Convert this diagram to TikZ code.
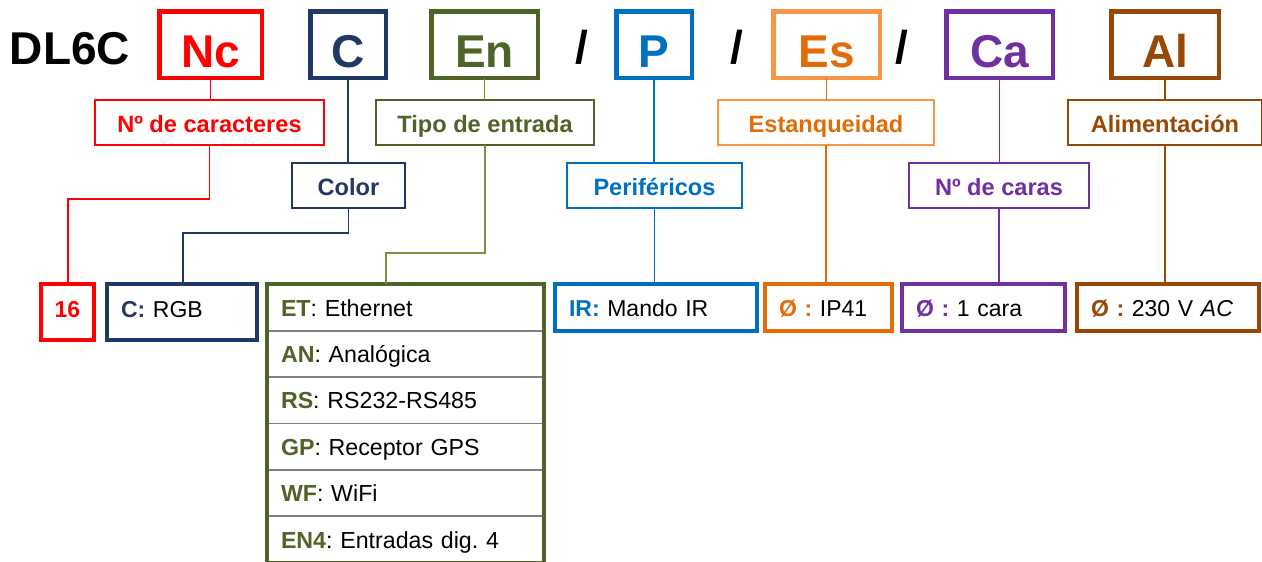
\documentclass[tikz,border=0pt]{standalone}
\usepackage{fontspec}
\setmainfont{Liberation Sans}
\usepackage{xcolor}
\usepackage{tikz}
\usetikzlibrary{positioning}
\frenchspacing

\definecolor{cred}{HTML}{FF0000}
\definecolor{cnavy}{HTML}{1F3864}
\definecolor{colive}{HTML}{4F6228}
\definecolor{colline}{HTML}{76923C}
\definecolor{cblue}{HTML}{0070C0}
\definecolor{corange}{HTML}{E36C09}
\definecolor{corlight}{HTML}{F79646}
\definecolor{cpurple}{HTML}{7030A0}
\definecolor{cbrown}{HTML}{984806}
\definecolor{cgrey}{HTML}{7F7F7F}

\tikzset{
  bigfont/.style={font=\fontsize{46}{46}\selectfont\bfseries},
  topbox/.style={draw, bigfont, line width=4.5pt, inner sep=0pt, outer sep=0pt,
    minimum height=66.5pt, text height=45pt, text depth=0pt},
  midbox/.style={draw, line width=1.8pt, inner sep=0pt, outer sep=0pt,
    minimum height=45.2pt, text height=22pt, text depth=3pt,
    font=\fontsize{23.6}{25}\selectfont\bfseries},
  valbox/.style={draw, line width=4pt, inner xsep=14pt, inner ysep=0pt, outer sep=0pt,
    minimum height=47pt, text height=22pt, text depth=5pt, align=left,
    font=\fontsize{23}{25}\selectfont},
  tabrow/.style={inner xsep=14pt, inner ysep=0pt, outer sep=0pt, minimum height=46.4pt,
    text width=249pt, align=left, text height=22pt, text depth=5pt,
    font=\fontsize{23.2}{25}\selectfont},
  conn/.style={line width=1.6pt},
}

\begin{document}
\begin{tikzpicture}[x=1pt,y=-1pt]
\useasboundingbox (0,0) rectangle (1262,562);
% code
\node[bigfont, text height=45pt, text depth=0pt] (model) at (70,42) {DL6C};
\node[topbox, cred, minimum width=102.5pt] (nc) at (210.5,44.5) {Nc};
\node[topbox, cnavy, minimum width=75.5pt] (c) at (348,44.5) {C};
\node[topbox, colive, minimum width=106.5pt] (en) at (484.5,44.5) {En};
\node[bigfont] (s1) at (582,47) {/};
\node[topbox, cblue, minimum width=75.5pt] (p) at (654,44.5) {P};
\node[bigfont] (s2) at (737,47) {/};
\node[topbox, draw=corlight, text=corange, minimum width=106.5pt] (es) at (826.5,44.5) {Es};
\node[bigfont] (s3) at (902,47) {/};
\node[topbox, cpurple, minimum width=106.5pt] (ca) at (999.5,44.5) {Ca};
\node[topbox, cbrown, minimum width=107.5pt] (al) at (1165,44.5) {Al};
% field names
\node[midbox, cred, minimum width=229.2pt] (carac) at (209.5,122.5) {Nº de caracteres};
\node[midbox, cnavy, minimum width=113.2pt] (color) at (348.5,185.5) {Color};
\node[midbox, colive, minimum width=218.2pt] (tipo) at (485,122.5) {Tipo de entrada};
\node[midbox, cblue, minimum width=175.2pt] (perif) at (654.5,185.5) {Periféricos};
\node[midbox, draw=corlight, text=corange, minimum width=216.2pt] (estanq) at (826,122.5) {Estanqueidad};
\node[midbox, cpurple, minimum width=180.2pt] (caras) at (999,185.5) {Nº de caras};
\node[midbox, cbrown, minimum width=194.2pt] (alim) at (1165,122.5) {Alimentación};
% options
\node[valbox, cred, font=\fontsize{23}{25}\selectfont\bfseries, minimum width=53pt,
  minimum height=56pt, text height=16pt, text depth=6pt] (num) at (67.5,312) {16};
\node[valbox, draw=cnavy, minimum height=56pt, text height=16pt, text depth=6pt,
  text width=122pt] (rgb) at (182,312) {\textcolor{cnavy}{\bfseries C:} RGB};
\node[valbox, draw=cblue, text width=174pt] (ir) at (656,307.5) {\textcolor{cblue}{\bfseries IR:} Mando IR};
\node[valbox, draw=corange, text width=99pt] (ip) at (828.5,307.5) {\textcolor{corange}{\bfseries Ø :} IP41};
\node[valbox, draw=cpurple, text width=135pt] (cara) at (983.5,307.5) {\textcolor{cpurple}{\bfseries Ø :} 1 cara};
\node[valbox, draw=cbrown, text width=154pt] (ac) at (1168,307.5) {\textcolor{cbrown}{\bfseries Ø :} 230 V \textit{AC}};
% input table
\foreach \k/\v [count=\i] in {ET/Ethernet, AN/Analógica, RS/RS232-RS485, GP/Receptor GPS, WF/WiFi, EN4/Entradas dig. 4}
  \node[tabrow] (row\i) at (405.5,{307.5+46.4*(\i-1)}) {\textcolor{colive}{\bfseries\k}: \v};
\foreach \i in {1,...,5}
  \draw[cgrey, line width=1.8pt] (row\i.south west) -- (row\i.south east);
\draw[colive, line width=4pt] (row1.north west) rectangle (row6.south east);
% connectors
\coordinate (ncbend) at (68,199);
\coordinate (cbend) at (183,233);
\coordinate (enbend) at (386,253);
\draw[conn, cred] (nc.south) -- (nc.south |- carac.north);
\draw[conn, cred] (carac.south) |- (ncbend) -- (ncbend |- num.north);
\draw[conn, cnavy] (c.south) -- (c.south |- color.north);
\draw[conn, cnavy] (color.south) |- (cbend) -- (cbend |- rgb.north);
\draw[conn, colline] (en.south) -- (en.south |- tipo.north);
\draw[conn, colline] (tipo.south) |- (enbend) -- (enbend |- row1.north);
\draw[conn, cblue] (p.south) -- (p.south |- perif.north);
\draw[conn, cblue] (perif.south) -- (perif.south |- ir.north);
\draw[conn, corange] (es.south) -- (es.south |- estanq.north);
\draw[conn, corange] (estanq.south) -- (estanq.south |- ip.north);
\draw[conn, cpurple] (ca.south) -- (ca.south |- caras.north);
\draw[conn, cpurple] (caras.south) -- (caras.south |- cara.north);
\draw[conn, cbrown] (al.south) -- (al.south |- alim.north);
\draw[conn, cbrown] (alim.south) -- (alim.south |- ac.north);
\end{tikzpicture}
\end{document}
